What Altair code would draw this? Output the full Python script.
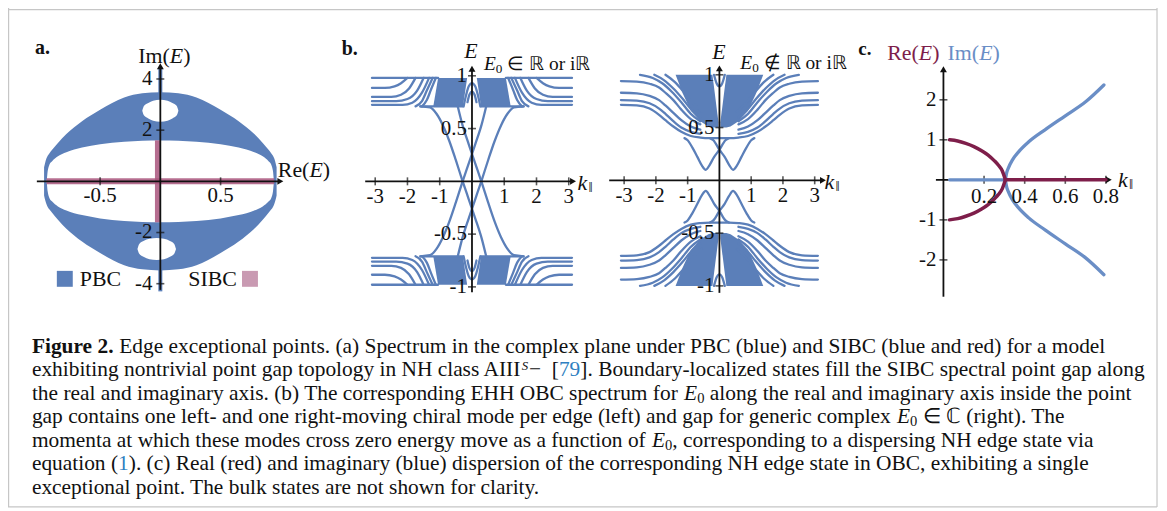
import altair as alt
import pandas as pd

FONT = "Liberation Serif"
BLUE = "#5b7fb9"
LIGHT_BLUE = "#6a8ec6"
MAROON = "#7e1e4a"
SIBC_RED = "#a9557d"
PINK = "#c99ab2"
LINK = "#2f7fc1"
INK = "#111111"
FRAME_GRAY = "#c6c6c6"

W, H = 1156, 502
PAGE = 8

# ---------------- (a) complex spectrum: PBC band and SIBC ----------------
A_RE = [-0.965, -0.955, -0.945, -0.935, -0.92, -0.9, -0.85, -0.78, -0.65, -0.5, -0.3, -0.15, 0.0]
A_OUTER = [0.55, 0.75, 0.9, 1.0, 1.1, 1.22, 1.5, 1.85, 2.35, 2.8, 3.28, 3.44, 3.48]
A_INNER = [0.0, 0.0, 0.0, 0.4, 0.66, 0.78, 0.98, 1.14, 1.32, 1.45, 1.55, 1.59, 1.6]
HOLE_UP_RE = [-0.15, -0.135, -0.1, -0.06, 0.0, 0.06, 0.1, 0.135, 0.15]
HOLE_UP_TOP = [2.76, 2.95, 3.06, 3.15, 3.19, 3.15, 3.06, 2.95, 2.76]
HOLE_UP_BOT = [2.76, 2.57, 2.46, 2.37, 2.33, 2.37, 2.46, 2.57, 2.76]
HOLE_DN_RE = [-0.19, -0.175, -0.14, -0.09, -0.03, 0.03, 0.08, 0.115, 0.13]
HOLE_DN_TOP = [-2.64, -2.45, -2.33, -2.24, -2.21, -2.24, -2.33, -2.45, -2.64]
HOLE_DN_BOT = [-2.64, -2.83, -2.95, -3.04, -3.07, -3.04, -2.95, -2.83, -2.64]
A_SIBC_RE = [-0.945, 0.945]
A_SIBC_IM = [-1.6, 1.6]
A_SPIKE_UP = [3.4, 4.45]
A_SPIKE_DN = [-3.4, -4.3]
A_XTICKS = [-0.5, 0.5]
A_YTICKS = [4, 2, -2, -4]
A_LEGEND = ["PBC", "SIBC"]

# ---------------- (b) left: E0 real or imaginary (k <= 0 half of upper band) ----------------
BL_TOP_K = [-3.1, -1.05]
BL_TOP_E = [0.98, 0.98]
BL_F1_K = [-3.1, -2.7, -2.4, -2.2, -2.0]
BL_F1_E = [0.885, 0.885, 0.9, 0.93, 0.98]
BL_F2_K = [-3.1, -2.5, -2.2, -1.95, -1.75]
BL_F2_E = [0.80, 0.80, 0.82, 0.88, 0.98]
BL_F3_K = [-3.1, -2.35, -2.0, -1.7, -1.5]
BL_F3_E = [0.76, 0.76, 0.78, 0.86, 0.98]
BL_F4_K = [-3.1, -2.15, -1.85, -1.55, -1.33]
BL_F4_E = [0.725, 0.725, 0.745, 0.84, 0.98]
BL_F5_K = [-1.75, -1.55, -1.4, -1.22]
BL_F5_E = [0.71, 0.76, 0.86, 0.98]
BL_F6_K = [-1.55, -1.4, -1.27, -1.12]
BL_F6_E = [0.71, 0.77, 0.87, 0.98]
BL_BOT_K = [-1.6, -0.28]
BL_BOT_E = [0.71, 0.71]
BL_BLOCK_K = [-1.2, -1.05, -0.28, -0.15]
BL_BLOCK_LO = [0.71, 0.71, 0.71, 0.98]
BL_BLOCK_HI = [0.71, 0.98, 0.98, 0.98]
BL_ARCH1_K = [-0.26, -0.18, -0.1, 0.0, 0.1, 0.18, 0.26]
BL_ARCH1_E = [0.71, 0.82, 0.9, 0.93, 0.9, 0.82, 0.71]
BL_ARCH2_K = [-0.14, -0.08, 0.0, 0.08, 0.14]
BL_ARCH2_E = [0.75, 0.82, 0.85, 0.82, 0.75]
BL_EDGE_K = [-1.6, -1.3, -1.1, -0.9, -0.7, -0.5, -0.3, -0.1, 0.1, 0.3, 0.44]
BL_EDGE_E = [0.71, 0.70, 0.64, 0.53, 0.38, 0.20, 0.01, -0.17, -0.35, -0.54, -0.71]

# ---------------- (b) right: generic complex E0 ----------------
BR_G_K = [-3.1, -2.6, -2.2, -1.9, -1.7, -1.45, -1.2, -0.9, -0.6]
BR_G1_E = [0.94, 0.935, 0.915, 0.88, 0.83, 0.76, 0.67, 0.58, 0.53]
BR_G2_E = [0.83, 0.825, 0.80, 0.76, 0.71, 0.64, 0.57, 0.51, 0.48]
BR_G3_E = [0.76, 0.755, 0.73, 0.68, 0.63, 0.56, 0.50, 0.46, 0.44]
BR_G4_K = [-3.1, -2.6, -2.2, -1.9, -1.7, -1.45, -1.2, -0.9, -0.6, -0.3, 0.0]
BR_G4_E = [0.715, 0.71, 0.68, 0.62, 0.57, 0.51, 0.46, 0.42, 0.405, 0.40, 0.40]
BR_H1_K = [-2.5, -2.1, -1.8, -1.5, -1.2, -0.9, -0.6]
BR_H1_E = [1.0, 0.97, 0.92, 0.84, 0.74, 0.63, 0.56]
BR_H2_K = [-2.05, -1.75, -1.45, -1.15, -0.85, -0.6]
BR_H2_E = [1.0, 0.95, 0.87, 0.77, 0.66, 0.6]
BR_H3_K = [-1.7, -1.4, -1.1, -0.8, -0.55]
BR_H3_E = [1.0, 0.93, 0.83, 0.72, 0.65]
BR_BLOCK_K = [-1.38, -1.15, -0.9, -0.6, -0.35, -0.22, -0.03]
BR_BLOCK_LO = [1.0, 0.82, 0.66, 0.56, 0.51, 0.5, 0.5]
BR_BLOCK_HI = [1.0, 1.0, 1.0, 1.0, 1.0, 1.0, 0.55]
BR_U_K = [-0.17, -0.09, 0.0, 0.09, 0.17]
BR_U_E = [1.0, 0.92, 0.89, 0.92, 1.0]
BR_V_K = [-1.1, -1.0, -0.85, -0.69, -0.55, -0.43, -0.3, -0.17, 0.0, 0.19, 0.3]
BR_V_E = [0.40, 0.38, 0.31, 0.22, 0.14, 0.10, 0.15, 0.22, 0.29, 0.38, 0.40]
B_XTICKS = [-3, -2, -1, 1, 2, 3]
B_YTICKS = [1, 0.5, -0.5, -1]

# ---------------- (c) edge-state dispersion ----------------
C_RE_K = [0.03, 0.07, 0.11, 0.15, 0.19, 0.22, 0.25, 0.27, 0.29, 0.305]
C_RE_E = [1.0, 0.97, 0.91, 0.83, 0.72, 0.62, 0.48, 0.37, 0.22, 0.0]
C_RE_FLAT_K = [0.305, 0.8]
C_IM_FLAT_K = [0.03, 0.305]
C_IM_K = [0.305, 0.31, 0.32, 0.34, 0.37, 0.42, 0.5, 0.6, 0.7, 0.79]
C_IM_E = [0.0, 0.15, 0.3, 0.5, 0.7, 0.95, 1.25, 1.6, 1.95, 2.37]
C_XTICKS = [0.2, 0.4, 0.6, 0.8]
C_YTICKS = [2, 1, -1, -2]

CAPTION = [
    [("Figure 2.", "b", INK), (" Edge exceptional points. (a) Spectrum in the complex plane under PBC (blue) and SIBC (blue and red) for a model", "r", INK)],
    [("exhibiting nontrivial point gap topology in NH class AIII", "r", INK), ("S", "sup", INK), ("\u2212 ", "r", INK), (" [", "r", INK), ("79", "r", LINK), ("]. Boundary-localized states fill the SIBC spectral point gap along", "r", INK)],
    [("the real and imaginary axis. (b) The corresponding EHH OBC spectrum for ", "r", INK), ("E", "i", INK), ("0", "sub", INK), (" along the real and imaginary axis inside the point", "r", INK)],
    [("gap contains one left- and one right-moving chiral mode per edge (left) and gap for generic complex ", "r", INK), ("E", "i", INK), ("0", "sub", INK), (" \u2208 \u2102 (right). The", "r", INK)],
    [("momenta at which these modes cross zero energy move as a function of ", "r", INK), ("E", "i", INK), ("0", "sub", INK), (", corresponding to a dispersing NH edge state via", "r", INK)],
    [("equation (", "r", INK), ("1", "r", LINK), ("). (c) Real (red) and imaginary (blue) dispersion of the corresponding NH edge state in OBC, exhibiting a single", "r", INK)],
    [("exceptional point. The bulk states are not shown for clarity.", "r", INK)],
]

# ---------------- helpers ----------------
TW = {' ': 250, '!': 333, '(': 333, ')': 333, ',': 250, '-': 333, '.': 250, '/': 278, ':': 278, ';': 278,
      '[': 333, ']': 333, 'A': 722, 'B': 667, 'C': 667, 'D': 722, 'E': 611, 'F': 556, 'G': 722, 'H': 722,
      'I': 333, 'J': 389, 'K': 722, 'L': 611, 'M': 889, 'N': 722, 'O': 722, 'P': 556, 'Q': 722, 'R': 667,
      'S': 556, 'T': 611, 'U': 722, 'V': 722, 'W': 944, 'X': 722, 'Y': 722, 'Z': 611, 'a': 444, 'b': 500,
      'c': 444, 'd': 500, 'e': 444, 'f': 333, 'g': 500, 'h': 500, 'i': 278, 'j': 278, 'k': 500, 'l': 278,
      'm': 778, 'n': 500, 'o': 500, 'p': 500, 'q': 500, 'r': 333, 's': 389, 't': 278, 'u': 500, 'v': 500,
      'w': 722, 'x': 500, 'y': 500, 'z': 444, '\u2212': 564, '\u2208': 667, '\u2209': 667, '\u211d': 722,
      '\u2102': 722, '\u2016': 500}
SCRIPT_SCALE = {"sub": 0.68, "sup": 0.6}


def tw(s, size, kind):
    w = sum(TW.get(ch, 500) for ch in s) / 1000.0 * size
    return w * 1.06 if kind == "b" else w


def rich(segs, x, y, ppx, size, align="left"):
    pieces, total = [], 0.0
    for text, kind, color in segs:
        fs = size * SCRIPT_SCALE.get(kind, 1.0)
        body = text.lstrip(" ")
        lead = tw(text[:len(text) - len(body)], fs, kind)
        pieces.append((body.rstrip(" "), kind, color, fs, total + lead))
        total += tw(text, fs, kind)
    shift = {"left": 0.0, "center": -total / 2.0, "right": -total}[align]
    return [dict(x=x + (off + shift) / ppx, y=y, t=text, kind=kind, col=color, fs=fs)
            for text, kind, color, fs, off in pieces if text]


class Panel:
    def __init__(self, xo, xppu, xdom, yo, yppu, ydom):
        self.ppx, self.ppy = xppu, yppu
        self.xs = alt.Scale(domain=xdom, range=[xo + xppu * xdom[0] - PAGE, xo + xppu * xdom[1] - PAGE],
                            nice=False, zero=False)
        self.ys = alt.Scale(domain=ydom, range=[yo - yppu * ydom[0] - PAGE, yo - yppu * ydom[1] - PAGE],
                            nice=False, zero=False)

    def X(self, f="x"):
        return alt.X(f, type="quantitative", scale=self.xs, axis=None)

    def Y(self, f="y"):
        return alt.Y(f, type="quantitative", scale=self.ys, axis=None)


KIND_STYLE = {
    "r": dict(),
    "i": dict(fontStyle="italic"),
    "b": dict(fontWeight="bold"),
    "sub": dict(dy=5),
    "sup": dict(fontStyle="italic", dy=-4),
}


def text_layers(p, rows):
    df = pd.DataFrame(rows)
    out = []
    for kind, style in KIND_STYLE.items():
        sub = df[df["kind"] == kind]
        if len(sub) == 0:
            continue
        out.append(alt.Chart(sub).mark_text(font=FONT, align="left", baseline="middle", **style).encode(
            x=p.X(), y=p.Y(), text="t:N", color=alt.Color("col:N", scale=None),
            size=alt.Size("fs:Q", scale=None)))
    return out


def lines_layer(p, curves, color, width):
    rows = []
    for cid, ks, es in curves:
        rows += [dict(id=cid, x=k, y=e) for k, e in zip(ks, es)]
    return alt.Chart(pd.DataFrame(rows)).mark_line(color=color, strokeWidth=width, interpolate="monotone",
                                                   strokeCap="round").encode(x=p.X(), y=p.Y(), detail="id:N")


def area_layer(p, parts, color, interp="linear"):
    rows = []
    for pid, ks, lo, hi in parts:
        rows += [dict(id=pid, x=k, lo=a, hi=b) for k, a, b in zip(ks, lo, hi)]
    return alt.Chart(pd.DataFrame(rows)).mark_area(color=color, interpolate=interp, opacity=1).encode(
        x=p.X(), y=p.Y("lo"), y2=alt.Y2("hi"), detail="id:N")


def seg_layer(p, segs, color, width, cap="butt", opacity=1.0):
    df = pd.DataFrame(segs, columns=["x", "y", "x2", "y2"])
    return alt.Chart(df).mark_rule(color=color, strokeWidth=width, strokeCap=cap, opacity=opacity).encode(
        x=p.X(), y=p.Y(), x2=alt.X2("x2"), y2=alt.Y2("y2"))


def axis_layers(p, xr, yr, xt, yt, size, xlab_dy, ylab_dx, tick=8):
    L = [seg_layer(p, [(xr[0], 0.0, xr[1] - 3.5 / p.ppx, 0.0), (0.0, yr[0], 0.0, yr[1] - 3.5 / p.ppy)], INK, 1.8)]
    arr = pd.DataFrame([dict(x=xr[1] - 3.5 / p.ppx, y=0.0, s="triangle-right"),
                        dict(x=0.0, y=yr[1] - 3.5 / p.ppy, s="triangle-up")])
    L.append(alt.Chart(arr).mark_point(filled=True, size=48, opacity=1, color=INK).encode(
        x=p.X(), y=p.Y(), shape=alt.Shape("s:N", scale=None)))
    L.append(alt.Chart(pd.DataFrame(dict(x=xt, y=[0.0] * len(xt)))).mark_tick(
        orient="vertical", size=tick, thickness=1.6, color=INK).encode(x=p.X(), y=p.Y()))
    L.append(alt.Chart(pd.DataFrame(dict(x=[0.0] * len(yt), y=yt))).mark_tick(
        orient="horizontal", size=tick, thickness=1.6, color=INK).encode(x=p.X(), y=p.Y()))
    rows = []
    for v in xt:
        rows += rich([(f"{v:g}", "r", INK)], v, -xlab_dy / p.ppy, p.ppx, size, "center")
    for v in yt:
        rows += rich([(f"{v:g}", "r", INK)], -ylab_dx / p.ppx, v, p.ppx, size, "right")
    return L, rows


def quad(ks, es):
    return [(ks, es), ([-k for k in ks], es), (ks, [-e for e in es]), ([-k for k in ks], [-e for e in es])]


def quad_area(ks, lo, hi):
    nk = [-k for k in ks]
    return [(ks, lo, hi), (nk, lo, hi), (ks, [-b for b in hi], [-a for a in lo]),
            (nk, [-b for b in hi], [-a for a in lo])]


# ---------------- panels (page-pixel anchors of origin & pixels per unit) ----------------
PA = Panel(161, 121, [-1, 1], 181, 25.7, [-5, 5])
PBL = Panel(474, 32.4, [-4, 4], 181, 106, [-1.2, 1.2])
PBR = Panel(722.5, 31.9, [-4, 4], 180, 106, [-1.2, 1.2])
PC = Panel(947.5, 204, [0, 1], 179.5, 40.2, [-3, 3])
PCAP = Panel(0, 1, [0, W + PAGE], 0, -1, [0, H + PAGE])
TICK_FS = 21
TITLE_FS = 22
CAPTION_FS = 21.5

# ---- panel a ----
re_full = A_RE + [-r for r in reversed(A_RE[:-1])]
out_full = A_OUTER + list(reversed(A_OUTER[:-1]))
in_full = A_INNER + list(reversed(A_INNER[:-1]))
a_layers = [
    area_layer(PA, [("up", re_full, in_full, out_full),
                    ("dn", re_full, [-v for v in out_full], [-v for v in in_full])], BLUE, "monotone"),
    area_layer(PA, [("h1", HOLE_UP_RE, HOLE_UP_BOT, HOLE_UP_TOP),
                    ("h2", HOLE_DN_RE, HOLE_DN_BOT, HOLE_DN_TOP)], "white", "monotone"),
    seg_layer(PA, [(0.0, A_SPIKE_UP[0], 0.0, A_SPIKE_UP[1]), (0.0, A_SPIKE_DN[0], 0.0, A_SPIKE_DN[1])], BLUE, 4),
    seg_layer(PA, [(A_SIBC_RE[0], 0.0, A_SIBC_RE[1], 0.0), (-0.02, A_SIBC_IM[0], -0.02, A_SIBC_IM[1])],
              SIBC_RED, 6, opacity=0.85),
]
ax, a_rows = axis_layers(PA, (-1.025, 1.025), (-4.24, 4.63), A_XTICKS, A_YTICKS, TICK_FS, 15, 8)
a_layers += ax
leg = pd.DataFrame(dict(x=[-0.793, 0.744], y=[-3.81, -3.81], c=[BLUE, PINK]))
a_layers.append(alt.Chart(leg).mark_square(size=256, filled=True, opacity=1).encode(
    x=PA.X(), y=PA.Y(), color=alt.Color("c:N", scale=None)))
a_rows += rich([(A_LEGEND[0], "r", INK)], -0.669, -3.81, PA.ppx, TITLE_FS, "left")
a_rows += rich([(A_LEGEND[1], "r", INK)], 0.636, -3.81, PA.ppx, TITLE_FS, "right")
a_rows += rich([("a.", "b", INK)], -1.041, 5.21, PA.ppx, 20, "left")
a_rows += rich([("Im(", "r", INK), ("E", "i", INK), (")", "r", INK)], 0.033, 4.9, PA.ppx, TITLE_FS, "center")
a_rows += rich([("Re(", "r", INK), ("E", "i", INK), (")", "r", INK)], 0.975, 0.43, PA.ppx, TITLE_FS, "left")
a_layers += text_layers(PA, a_rows)

# ---- panel b left ----
bl_curves = []
for name, ks, es in [("t", BL_TOP_K, BL_TOP_E), ("f1", BL_F1_K, BL_F1_E), ("f2", BL_F2_K, BL_F2_E),
                     ("f3", BL_F3_K, BL_F3_E), ("f4", BL_F4_K, BL_F4_E), ("f5", BL_F5_K, BL_F5_E),
                     ("f6", BL_F6_K, BL_F6_E), ("bt", BL_BOT_K, BL_BOT_E), ("edge", BL_EDGE_K, BL_EDGE_E)]:
    for j, (kk, ee) in enumerate(quad(ks, es)):
        bl_curves.append((f"{name}{j}", kk, ee))
for name, ks, es in [("a1", BL_ARCH1_K, BL_ARCH1_E), ("a2", BL_ARCH2_K, BL_ARCH2_E)]:
    bl_curves.append((name + "u", ks, es))
    bl_curves.append((name + "d", ks, [-e for e in es]))
bl_layers = [
    area_layer(PBL, [(f"b{j}", *t) for j, t in enumerate(quad_area(BL_BLOCK_K, BL_BLOCK_LO, BL_BLOCK_HI))], BLUE),
    lines_layer(PBL, bl_curves, BLUE, 2.3),
]
ax, bl_rows = axis_layers(PBL, (-3.31, 3.24), (-1.05, 1.10), B_XTICKS, B_YTICKS, TICK_FS, 16, 5)
bl_layers += ax
bl_rows += rich([("b.", "b", INK)], -4.04, 1.255, PBL.ppx, 20, "left")
bl_rows += rich([("E", "i", INK)], -0.03, 1.236, PBL.ppx, TITLE_FS, "center")
bl_rows += rich([("E", "i", INK), ("0", "sub", INK), (" \u2208 \u211d or i\u211d", "r", INK)],
                0.37, 1.113, PBL.ppx, 19.5, "left")
bl_rows += rich([("k", "i", INK), ("\u2016", "sub", INK)], 3.27, -0.02, PBL.ppx, TITLE_FS, "left")
bl_layers += text_layers(PBL, bl_rows)

# ---- panel b right ----
br_curves = []
for name, ks, es in [("g1", BR_G_K, BR_G1_E), ("g2", BR_G_K, BR_G2_E), ("g3", BR_G_K, BR_G3_E),
                     ("g4", BR_G4_K, BR_G4_E), ("h1", BR_H1_K, BR_H1_E), ("h2", BR_H2_K, BR_H2_E),
                     ("h3", BR_H3_K, BR_H3_E), ("v", BR_V_K, BR_V_E)]:
    for j, (kk, ee) in enumerate(quad(ks, es)):
        br_curves.append((f"{name}{j}", kk, ee))
br_curves.append(("uu", BR_U_K, BR_U_E))
br_curves.append(("ud", BR_U_K, [-e for e in BR_U_E]))
br_layers = [
    area_layer(PBR, [(f"b{j}", *t) for j, t in enumerate(quad_area(BR_BLOCK_K, BR_BLOCK_LO, BR_BLOCK_HI))], BLUE),
    lines_layer(PBR, br_curves, BLUE, 2.3),
]
ax, br_rows = axis_layers(PBR, (-3.47, 3.37), (-1.066, 1.094), B_XTICKS, B_YTICKS, TICK_FS, 16, 5)
br_layers += ax
br_rows += rich([("E", "i", INK)], -0.016, 1.217, PBR.ppx, TITLE_FS, "center")
br_rows += rich([("E", "i", INK), ("0", "sub", INK), (" \u2209 \u211d or i\u211d", "r", INK)],
                0.66, 1.113, PBR.ppx, 19.5, "left")
br_rows += rich([("k", "i", INK), ("\u2016", "sub", INK)], 3.31, -0.02, PBR.ppx, TITLE_FS, "left")
br_layers += text_layers(PBR, br_rows)

# ---- panel c ----
ax, c_rows = axis_layers(PC, (-0.037, 0.831), (-2.92, 2.85), C_XTICKS, C_YTICKS, TICK_FS, 17, 7)
c_layers = list(ax)
c_layers.append(lines_layer(PC, [("flat", C_IM_FLAT_K, [0.0, 0.0]), ("up", C_IM_K, C_IM_E),
                                 ("dn", C_IM_K, [-v for v in C_IM_E])], LIGHT_BLUE, 3.3))
c_layers.append(lines_layer(PC, [("flat", C_RE_FLAT_K, [0.0, 0.0]), ("up", C_RE_K, C_RE_E),
                                 ("dn", C_RE_K, [-v for v in C_RE_E])], MAROON, 3.5))
c_rows += rich([("c.", "b", INK)], -0.419, 3.27, PC.ppx, 19, "left")
c_rows += rich([("Re(", "r", MAROON), ("E", "i", MAROON), (")", "r", MAROON)], -0.277, 3.17, PC.ppx, TITLE_FS, "left")
c_rows += rich([("Im(", "r", LIGHT_BLUE), ("E", "i", LIGHT_BLUE), (")", "r", LIGHT_BLUE)], 0.02, 3.17, PC.ppx, TITLE_FS, "left")
c_rows += rich([("k", "i", INK), ("\u2016", "sub", INK)], 0.86, 0.0, PC.ppx, TITLE_FS, "left")
c_layers += text_layers(PC, c_rows)

# ---- caption and frame (page-pixel coordinates) ----
cap_rows = []
for i, segs in enumerate(CAPTION):
    cap_rows += rich(segs, 32, 347 + 23.6 * i, 1, CAPTION_FS, "left")
cap_layers = [seg_layer(PCAP, [(8.6, 4, 8.6, 508), (1162, 4, 1162, 508), (8, 8.6, 1162, 8.6), (8, 508, 1162, 508)],
                        FRAME_GRAY, 1.2)]
cap_layers += text_layers(PCAP, cap_rows)

chart = alt.layer(
    alt.layer(*cap_layers),
    alt.layer(*a_layers),
    alt.layer(*bl_layers),
    alt.layer(*br_layers),
    alt.layer(*c_layers),
).resolve_scale(x="independent", y="independent").properties(
    width=W, height=H, padding=0, autosize=alt.AutoSizeParams(type="none"), background="white"
).configure_view(strokeOpacity=0)

chart.save("out.html", embed_options={"renderer": "svg", "actions": False})
